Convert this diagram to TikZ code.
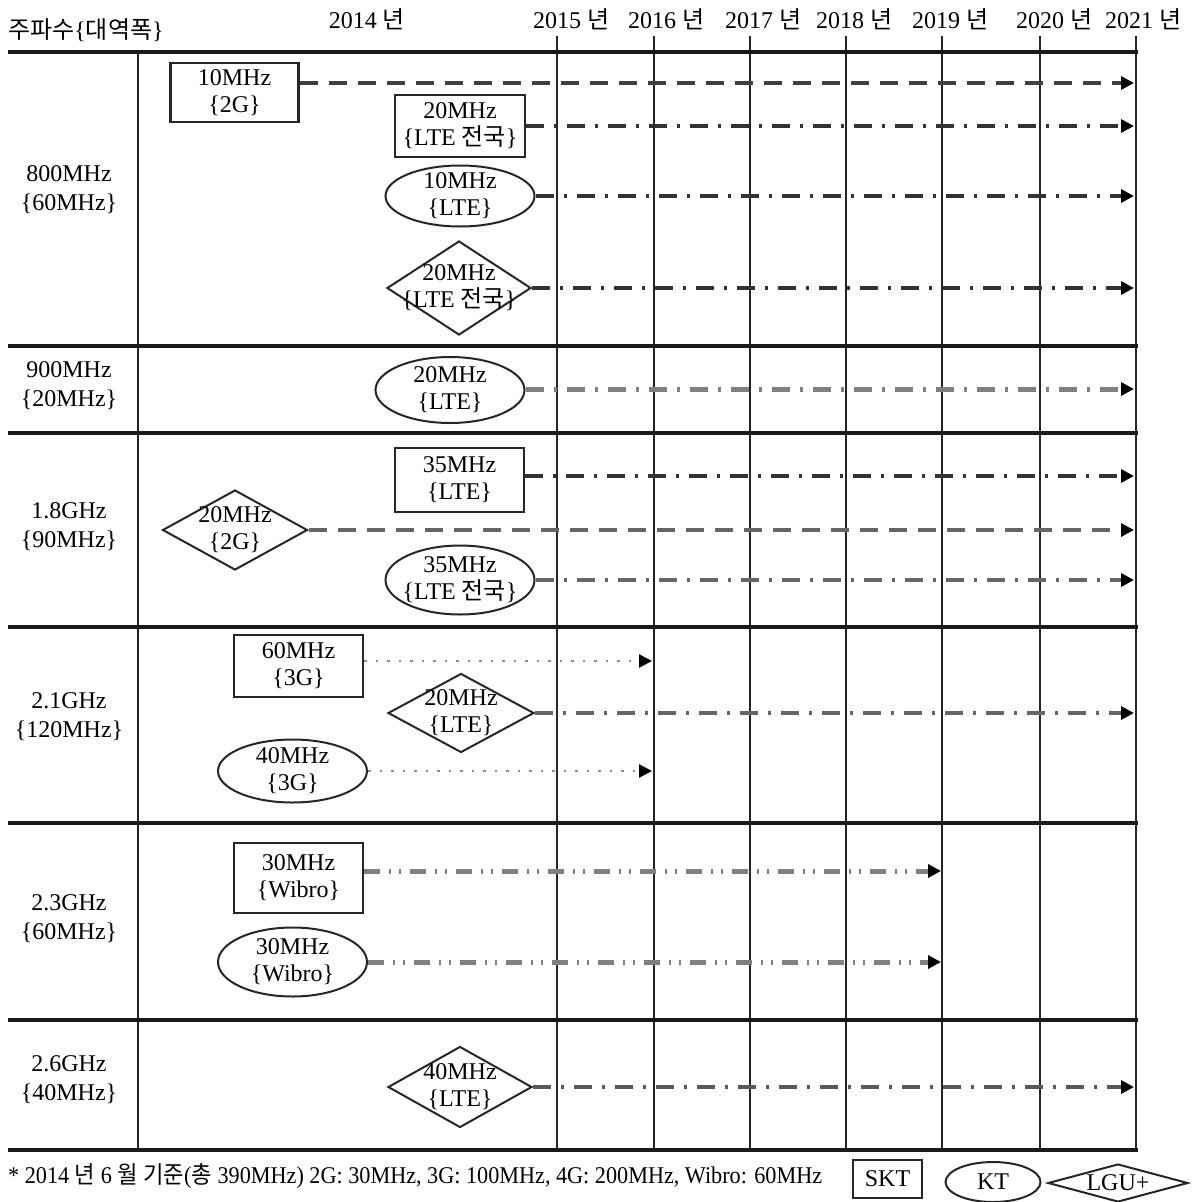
\documentclass[tikz,border=0pt]{standalone}
\usepackage{fontspec}
\setmainfont{Liberation Serif}
\newfontfamily\krfont{Noto Sans CJK KR}
\newcommand\K[1]{{\krfont #1}}
\usetikzlibrary{shapes.geometric,arrows.meta}
\begin{document}
\begin{tikzpicture}[x=1pt,y=-1pt,
  txt/.style={font=\fontsize{24}{27}\selectfont, align=center, inner sep=0pt},
  lbl/.style={font=\fontsize{24}{29}\selectfont, align=center, inner sep=0pt},
  box/.style={draw=black!85, rectangle, line width=2.4pt, inner sep=0pt},
  ell/.style={draw=black!85, ellipse, line width=2pt, inner sep=0pt},
  dia/.style={draw=black!85, diamond, line width=2pt, inner sep=0pt},
  sepline/.style={line width=4.5pt, black!90},
  yrline/.style={line width=2pt, black!85},
  arrowend/.style={-{Triangle[length=13pt,width=13pt,color=black]}},
  twog/.style={arrowend, line width=4.5pt, dash pattern=on 18pt off 11pt},
  dashdot/.style={arrowend, line width=4pt, dash pattern=on 18pt off 10pt on 3pt off 10pt},
  threeg/.style={arrowend, line width=2.5pt, black!45, dash pattern=on 2.5pt off 9pt},
  wibro/.style={arrowend, line width=5pt, black!50, dash pattern=on 16pt off 9pt on 2pt off 8pt on 2pt off 9pt},
]
\useasboundingbox (0,0) rectangle (1194,1202);

% grid
\foreach \xx in {557,654,750,846,942,1040,1136} \draw[yrline] (\xx,36) -- (\xx,1150);
\draw[line width=2.2pt, black!85] (138,52) -- (138,1150);
\foreach \yy in {52,346,433,627,823,1020,1150} \draw[sepline] (8,\yy) -- (1138,\yy);

% header
\node[txt, anchor=west] (hdr) at (8,30) {\K{주파수}\{\K{대역폭}\}};
\node[txt] (y14) at (367,19) {2014 \K{년}};
\node[txt, anchor=west] (y15) at (533,19) {2015 \K{년}};
\node[txt, anchor=west] (y16) at (628,19) {2016 \K{년}};
\node[txt, anchor=west] (y17) at (725,19) {2017 \K{년}};
\node[txt, anchor=west] (y18) at (816,19) {2018 \K{년}};
\node[txt, anchor=west] (y19) at (912,19) {2019 \K{년}};
\node[txt, anchor=west] (y20) at (1016,19) {2020 \K{년}};
\node[txt, anchor=west] (y21) at (1105,19) {2021 \K{년}};

% row labels
\node[lbl] (r1) at (69,190) {800MHz\\\{60MHz\}};
\node[lbl] (r2) at (69,386) {900MHz\\\{20MHz\}};
\node[lbl] (r3) at (69,527) {1.8GHz\\\{90MHz\}};
\node[lbl] (r4) at (69,717) {2.1GHz\\\{120MHz\}};
\node[lbl] (r5) at (69,919) {2.3GHz\\\{60MHz\}};
\node[lbl] (r6) at (69,1080) {2.6GHz\\\{40MHz\}};

% 800MHz
\node[box, minimum width=128, minimum height=59, label={[txt]center:10MHz\\\{2G\}}] (sa) at (234.5,92.5) {};
\node[box, minimum width=130, minimum height=62, label={[txt]center:20MHz\\\{LTE \K{전국}\}}] (sb) at (460,126) {};
\node[ell, minimum width=149, minimum height=61, label={[txt]center:10MHz\\\{LTE\}}] (ka) at (460,196) {};
\node[dia, minimum width=144, minimum height=94, label={[txt]center:20MHz\\\{LTE \K{전국}\}}] (la) at (459,288) {};
% 900MHz
\node[ell, minimum width=149, minimum height=66, label={[txt]center:20MHz\\\{LTE\}}] (kb) at (450,390) {};
% 1.8GHz
\node[box, minimum width=129, minimum height=64, label={[txt]center:35MHz\\\{LTE\}}] (sc) at (459.5,480) {};
\node[dia, minimum width=145, minimum height=80, label={[txt]center:20MHz\\\{2G\}}] (lb) at (235,530) {};
\node[ell, minimum width=149, minimum height=69, label={[txt]center:35MHz\\\{LTE \K{전국}\}}] (kc) at (460,580) {};
% 2.1GHz
\node[box, minimum width=129, minimum height=62, label={[txt]center:60MHz\\\{3G\}}] (sd) at (298.5,666) {};
\node[dia, minimum width=146, minimum height=79, label={[txt]center:20MHz\\\{LTE\}}] (lc) at (461,713) {};
\node[ell, minimum width=149, minimum height=63, label={[txt]center:40MHz\\\{3G\}}] (kd) at (292.5,771) {};
% 2.3GHz
\node[box, minimum width=129, minimum height=70, label={[txt]center:30MHz\\\{Wibro\}}] (se) at (298.5,878) {};
\node[ell, minimum width=149, minimum height=69, label={[txt]center:30MHz\\\{Wibro\}}] (ke) at (292.5,962) {};
% 2.6GHz
\node[dia, minimum width=144, minimum height=81, label={[txt]center:40MHz\\\{LTE\}}] (ld) at (460,1087) {};

% end points
\coordinate (ea) at (1134,83);
\coordinate (eb) at (1134,126);
\coordinate (ec) at (1134,196);
\coordinate (ed) at (1134,288);
\coordinate (ee) at (1134,389);
\coordinate (ef) at (1134,476);
\coordinate (eg) at (1134,530);
\coordinate (eh) at (1134,580);
\coordinate (ei) at (652,661);
\coordinate (ej) at (1134,713);
\coordinate (ek) at (652,771);
\coordinate (el) at (941,871);
\coordinate (em) at (941,962);
\coordinate (en) at (1134,1087);

% connectors
\draw[twog, black!75] (sa.east |- ea) -- (ea);
\draw[dashdot, black!80] (sb.east |- eb) -- (eb);
\draw[dashdot, black!80] (ka.east |- ec) -- (ec);
\draw[dashdot, black!80] (la.east |- ed) -- (ed);
\draw[dashdot, black!50, line width=5pt] (kb.east |- ee) -- (ee);
\draw[dashdot, black!80] (sc.east |- ef) -- (ef);
\draw[twog, black!60] (lb.east |- eg) -- (eg);
\draw[dashdot, black!60] (kc.east |- eh) -- (eh);
\draw[threeg] (sd.east |- ei) -- (ei);
\draw[dashdot, black!60] (lc.east |- ej) -- (ej);
\draw[threeg] (kd.east |- ek) -- (ek);
\draw[wibro] (se.east |- el) -- (el);
\draw[wibro] (ke.east |- em) -- (em);
\draw[dashdot, black!65] (ld.east |- en) -- (en);

% footnote and legend
\node[txt, anchor=west] (note) at (8,1176) {\scalebox{0.925}[1]{* 2014 \K{년} 6 \K{월} \K{기준}(\K{총} 390MHz) 2G: 30MHz, 3G: 100MHz, 4G: 200MHz, Wibro: 60MHz}};
\node[box, line width=2pt, minimum width=69, minimum height=38, label={[txt]center:SKT}] (lgs) at (887.5,1179) {};
\node[ell, minimum width=95, minimum height=40, label={[txt]center:KT}] (lgk) at (993,1182) {};
\node[dia, minimum width=140, minimum height=38, label={[txt]center:LGU+}] (lgl) at (1118,1183) {};
\end{tikzpicture}
\end{document}
